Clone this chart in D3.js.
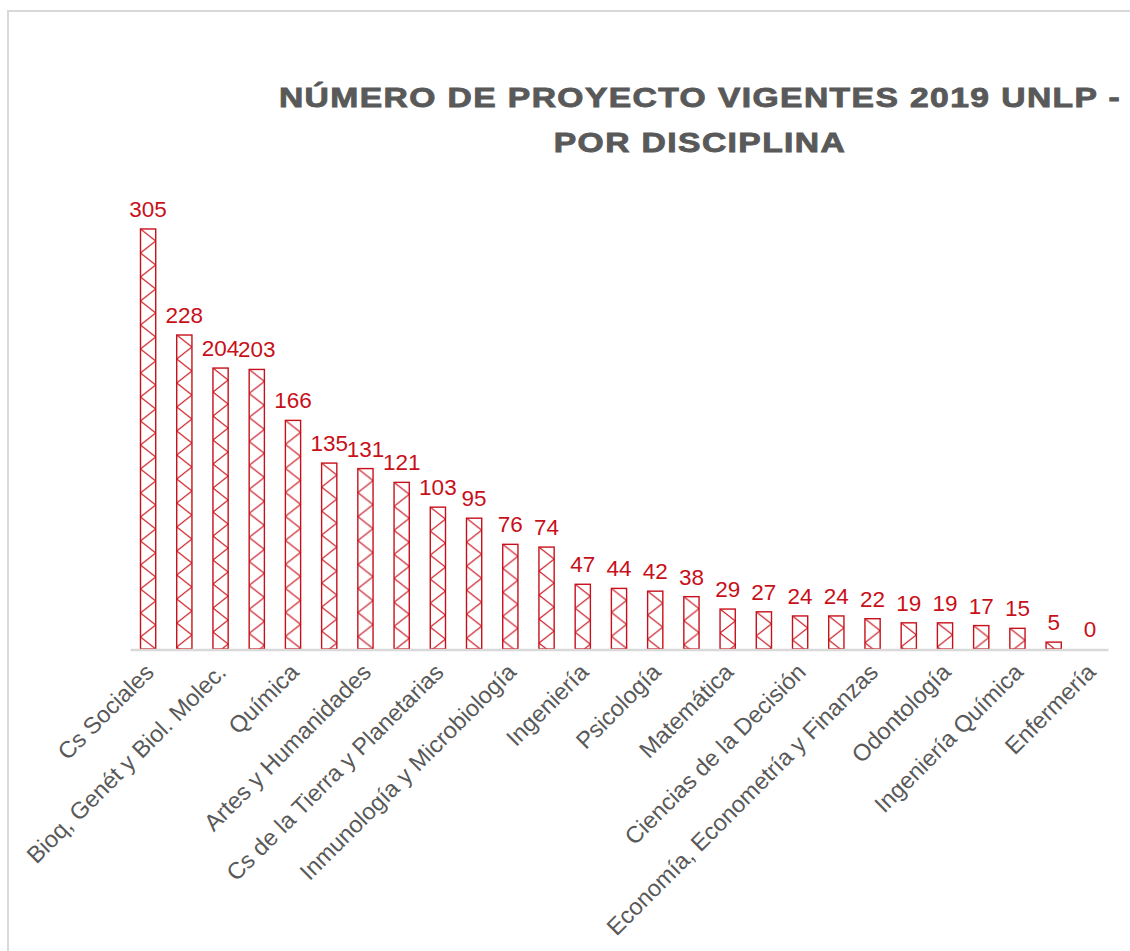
<!DOCTYPE html>
<html>
<head>
<meta charset="utf-8">
<script src="https://cdn.jsdelivr.net/npm/d3@7"></script>
<style>
  body { margin: 0; background: #fff; }
  text { font-family: "Liberation Sans", Arial, sans-serif; }
</style>
</head>
<body>
<div class="canvas"></div>
<script>
const w = 1130;
const h = 951;

// data (only every other category name is printed)
const categories = [
  "Cs Sociales", "Cs Médicas", "Bioq, Genét y Biol. Molec.", "Cs Agrarias",
  "Química", "Física", "Artes y Humanidades", "Cs Veterinarias",
  "Cs de la Tierra y Planetarias", "Arquitectura", "Inmunología y Microbiología", "Informática",
  "Ingeniería", "Astronomía", "Psicología", "Cs Naturales",
  "Matemática", "Farmacia", "Ciencias de la Decisión", "Educación Física",
  "Economía, Econometría y Finanzas", "Derecho", "Odontología", "Periodismo",
  "Ingeniería Química", "Geofísica", "Enfermería"
];
const values = [305, 228, 204, 203, 166, 135, 131, 121, 103, 95, 76, 74, 47, 44, 42, 38, 29, 27, 24, 24, 22, 19, 19, 17, 15, 5, 0];
const titleLines = ["NÚMERO DE PROYECTO VIGENTES 2019 UNLP -", "POR DISCIPLINA"];

const red = "#c8101a";
const grey = "#595959";

const svg = d3.select(".canvas").append("svg").attr("width", w).attr("height", h);

// outer chart frame
svg.append("rect")
  .attr("x", 8).attr("y", 11)
  .attr("width", 1300).attr("height", 1100)
  .attr("fill", "none")
  .attr("stroke", "#d9d9d9")
  .attr("stroke-width", 2);

const margin = { top: 167, left: 130, right: 22, bottom: 302 };
const graphWidth = w - margin.left - margin.right;
const baseY = h - margin.bottom; // 649

const x = d3.scaleBand().domain(categories).range([margin.left, margin.left + graphWidth]).paddingInner(0.58).paddingOuter(0.29);
const y = d3.scaleLinear().domain([0, 350]).range([baseY, margin.top]);

// title - the original font is a wide heavy sans, so stretch it a bit
svg.append("g")
  .selectAll("text")
  .data(titleLines)
  .join("text")
  .attr("transform", (d, i) => `translate(700, ${107 + i * 45}) scale(1.18, 1)`)
  .attr("text-anchor", "middle")
  .attr("fill", grey)
  .attr("stroke", grey)
  .attr("stroke-width", 0.9)
  .style("font-weight", "bold")
  .style("font-size", "28.5px")
  .style("letter-spacing", "1.2px")
  .text(d => d);

// one hatch pattern per bar so the crosses start at each bar's corner
const defs = svg.append("defs");
const bw = x.bandwidth();
defs.selectAll("pattern")
  .data(categories)
  .join("pattern")
  .attr("id", (d, i) => "hatch" + i)
  .attr("patternUnits", "userSpaceOnUse")
  .attr("x", d => x(d))
  .attr("y", (d, i) => y(values[i]))
  .attr("width", bw * 2)
  .attr("height", 24)
  .call(p => {
    p.append("rect").attr("width", bw * 2).attr("height", 24).attr("fill", "#fff");
    p.append("path")
      .attr("d", `M0,0L${bw * 2},24M0,24L${bw * 2},0`)
      .attr("stroke", red)
      .attr("stroke-width", 1.1)
      .attr("fill", "none");
  });

// bars
svg.append("g")
  .selectAll("rect")
  .data(categories)
  .join("rect")
  .attr("x", d => x(d))
  .attr("y", (d, i) => y(values[i]))
  .attr("width", bw)
  .attr("height", (d, i) => baseY - y(values[i]))
  .attr("fill", (d, i) => `url(#hatch${i})`)
  .attr("stroke", red)
  .attr("stroke-width", 1.4);

// x axis (only the baseline and every other label)
const xAxis = d3.axisBottom(x)
  .tickSize(0)
  .tickFormat((d, i) => (i % 2 === 0 ? d : ""));

const gx = svg.append("g")
  .attr("transform", `translate(0, ${baseY + 0.5})`)
  .call(xAxis);
gx.select(".domain").attr("stroke", "#d9d9d9").attr("stroke-width", 2.5);
gx.selectAll(".tick text")
  .attr("fill", grey)
  .style("font-size", "23.5px")
  .attr("text-anchor", "end")
  .attr("dy", 0)
  .attr("transform", "translate(5, 22) rotate(-45)");

// value labels
svg.append("g")
  .selectAll("text")
  .data(categories)
  .join("text")
  .attr("x", d => x(d) + bw / 2)
  .attr("y", (d, i) => y(values[i]) - 12)
  .attr("text-anchor", "middle")
  .attr("fill", red)
  .style("font-size", "22.5px")
  .text((d, i) => values[i]);
</script>
</body>
</html>
